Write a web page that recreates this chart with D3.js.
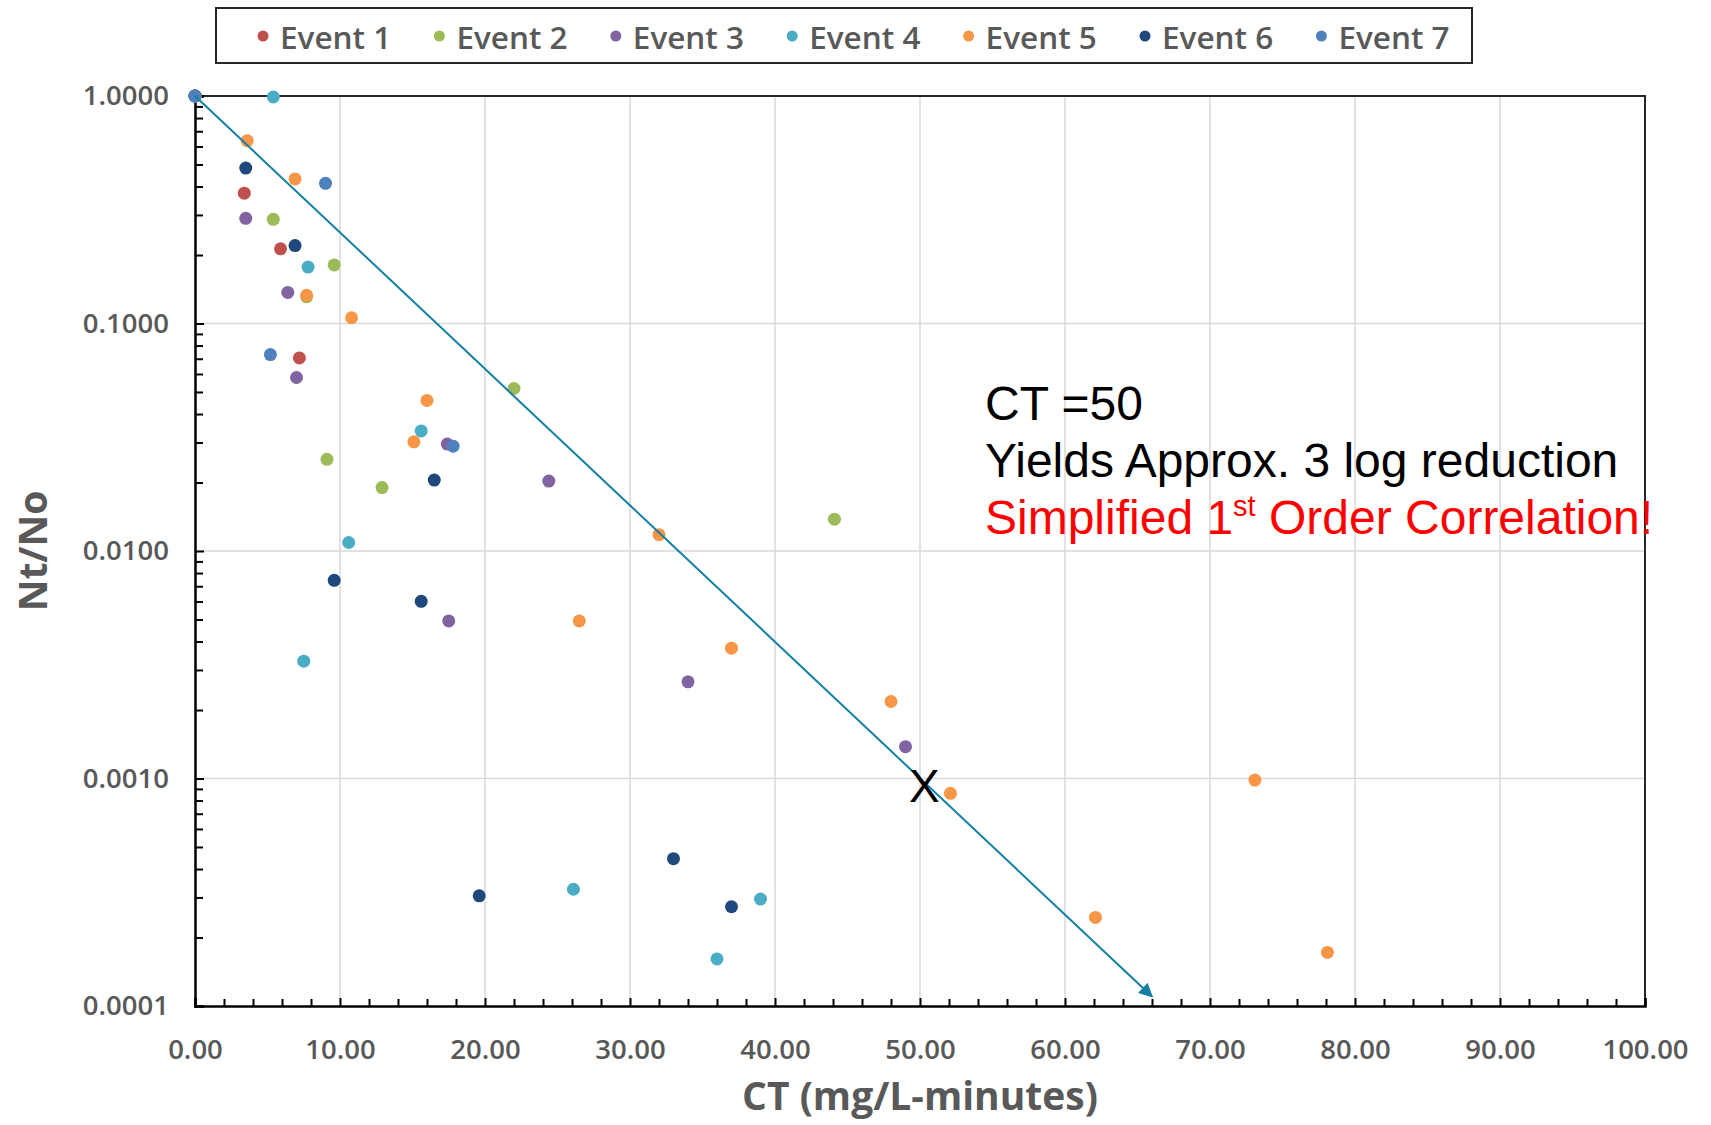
<!DOCTYPE html>
<html>
<head>
<meta charset="utf-8">
<script src="https://cdn.jsdelivr.net/npm/d3@7"></script>
<style>
  body { margin: 0; background: #fff; }
  svg { display: block; }
</style>
</head>
<body>
<div id="chart"></div>
<script>
// series data (CT, Nt/No)
const eventNames = ["Event 1", "Event 2", "Event 3", "Event 4", "Event 5", "Event 6", "Event 7"];
const eventColors = ["#C0504D", "#9BBB59", "#8064A2", "#4BACC6", "#F79646", "#1F497D", "#4F81BD"];

const event1CT = [0, 3.4, 5.9, 7.2];
const event1Ratio = [1, 0.374, 0.213, 0.0706];

const event2CT = [0, 5.4, 9.6, 7.7, 22.0, 9.1, 12.9, 44.1];
const event2Ratio = [1, 0.287, 0.181, 0.131, 0.0518, 0.0253, 0.019, 0.0138];

const event3CT = [0, 3.5, 6.4, 7.0, 17.4, 24.4, 17.5, 34.0, 49.0];
const event3Ratio = [1, 0.290, 0.137, 0.0579, 0.0295, 0.0203, 0.00493, 0.00266, 0.00138];

const event4CT = [0, 5.4, 7.8, 15.6, 10.6, 7.5, 26.1, 39.0, 36.0];
const event4Ratio = [1, 0.99, 0.177, 0.0337, 0.0109, 0.00328, 0.000326, 0.000295, 0.000161];

const event5CT = [0, 3.6, 6.9, 7.7, 10.8, 16.0, 15.1, 32.0, 26.5, 37.0, 48.0, 52.1, 73.1, 62.1, 78.1];
const event5Ratio = [1, 0.636, 0.432, 0.133, 0.106, 0.0459, 0.0302, 0.0118, 0.00493, 0.00374, 0.00218, 0.000861, 0.000984, 0.000245, 0.000172];

const event6CT = [0, 3.5, 6.9, 9.6, 15.6, 16.5, 19.6, 33.0, 37.0];
const event6Ratio = [1, 0.482, 0.220, 0.00743, 0.00601, 0.0205, 0.000305, 0.000444, 0.000273];

const event7CT = [0, 9.0, 5.2, 17.8];
const event7Ratio = [1, 0.413, 0.073, 0.0289];

const allCT = [event1CT, event2CT, event3CT, event4CT, event5CT, event6CT, event7CT];
const allRatio = [event1Ratio, event2Ratio, event3Ratio, event4Ratio, event5Ratio, event6Ratio, event7Ratio];

// first order correlation line and the CT=50 marker
const fitCT = [0, 66];
const fitRatio = [1, 0.00011];
const markCT = 50.3;
const markRatio = 0.00093;

const xTicks = [0, 10, 20, 30, 40, 50, 60, 70, 80, 90, 100];
const yTicks = [0.0001, 0.001, 0.01, 0.1, 1];

const WIDTH = 1711, HEIGHT = 1125;
const grid = { top: 96, left: 195, right: 66, bottom: 119 };
const plotW = WIDTH - grid.left - grid.right;
const plotH = HEIGHT - grid.top - grid.bottom;
const labelFont = "'Open Sans', sans-serif";
const labelColor = "#595959";

const svg = d3.select("#chart").append("svg")
    .attr("width", WIDTH)
    .attr("height", HEIGHT);

const x = d3.scaleLinear().domain([0, 100]).range([0, plotW]);
const y = d3.scaleLog().domain([0.0001, 1]).range([plotH, 0]);

const plot = svg.append("g")
    .attr("transform", `translate(${grid.left},${grid.top})`);

// grid lines
plot.append("g").selectAll("line.vgrid")
    .data(xTicks.slice(1, -1))
    .join("line")
    .attr("x1", d => x(d)).attr("x2", d => x(d))
    .attr("y1", 0).attr("y2", plotH)
    .attr("stroke", "#D9D9D9").attr("stroke-width", 1.5);

plot.append("g").selectAll("line.hgrid")
    .data(yTicks.slice(1, -1))
    .join("line")
    .attr("x1", 0).attr("x2", plotW)
    .attr("y1", d => y(d)).attr("y2", d => y(d))
    .attr("stroke", "#D9D9D9").attr("stroke-width", 1.5);

// top / right frame
plot.append("path")
    .attr("d", `M0,0H${plotW}V${plotH}`)
    .attr("fill", "none")
    .attr("stroke", "#262626")
    .attr("stroke-width", 2);

// minor ticks
const yMinor = [];
[0.0001, 0.001, 0.01, 0.1].forEach(dec => {
    for (let k = 2; k <= 9; k++) yMinor.push(dec * k);
});
const xMinor = d3.range(0, 101, 2).filter(v => v % 10 !== 0);

plot.append("g")
    .call(d3.axisLeft(y).tickValues(yMinor).tickSize(-8).tickFormat(""))
    .call(g => g.select(".domain").remove())
    .selectAll("line").attr("stroke", "#000").attr("stroke-width", 2);

plot.append("g")
    .attr("transform", `translate(0,${plotH})`)
    .call(d3.axisBottom(x).tickValues(xMinor).tickSize(-7).tickFormat(""))
    .call(g => g.select(".domain").remove())
    .selectAll("line").attr("stroke", "#000").attr("stroke-width", 2);

// major axes
const yAxis = plot.append("g")
    .call(d3.axisLeft(y).tickValues(yTicks).tickSize(-9).tickPadding(26).tickFormat(d3.format(".4f")));
yAxis.select(".domain").attr("stroke", "#000").attr("stroke-width", 2.5);
yAxis.selectAll("line").attr("stroke", "#000").attr("stroke-width", 2);
yAxis.selectAll("text")
    .attr("font-family", labelFont)
    .attr("font-weight", 600)
    .attr("font-size", 27.5)
    .attr("fill", labelColor);

const xAxis = plot.append("g")
    .attr("transform", `translate(0,${plotH})`)
    .call(d3.axisBottom(x).tickValues(xTicks).tickSize(-8).tickPadding(33).tickFormat(d3.format(".2f")));
xAxis.select(".domain").attr("stroke", "#000").attr("stroke-width", 2.5);
xAxis.selectAll("line").attr("stroke", "#000").attr("stroke-width", 2);
xAxis.selectAll("text")
    .attr("font-family", labelFont)
    .attr("font-weight", 600)
    .attr("font-size", 27.5)
    .attr("fill", labelColor);

// points
eventNames.forEach((name, i) => {
    const pts = allCT[i].map((ct, j) => ({ ct: ct, ratio: allRatio[i][j] }));
    plot.append("g").selectAll("circle")
        .data(pts)
        .join("circle")
        .attr("cx", d => x(d.ct))
        .attr("cy", d => y(d.ratio))
        .attr("r", 6.5)
        .attr("fill", eventColors[i]);
});

// correlation arrow
svg.append("defs").append("marker")
    .attr("id", "arrow")
    .attr("viewBox", "0 0 10 10")
    .attr("refX", 9).attr("refY", 5)
    .attr("markerWidth", 8).attr("markerHeight", 7)
    .attr("markerUnits", "strokeWidth")
    .attr("orient", "auto")
    .append("path")
    .attr("d", "M0,0L10,5L0,10Z")
    .attr("fill", "#137FA3");

plot.append("line")
    .attr("x1", x(fitCT[0])).attr("y1", y(fitRatio[0]))
    .attr("x2", x(fitCT[1])).attr("y2", y(fitRatio[1]))
    .attr("stroke", "#137FA3")
    .attr("stroke-width", 2)
    .attr("marker-end", "url(#arrow)");

plot.append("text")
    .attr("x", x(markCT))
    .attr("y", y(markRatio))
    .attr("text-anchor", "middle")
    .attr("dominant-baseline", "central")
    .attr("font-family", "'Liberation Sans', Arial, sans-serif")
    .attr("font-size", 46)
    .attr("fill", "#000")
    .text("X");

// annotation
const note = svg.append("text")
    .attr("font-family", "'Liberation Sans', Arial, sans-serif")
    .attr("font-size", 48);
note.append("tspan").attr("x", 985).attr("y", 420).attr("fill", "#000").text("CT =50");
note.append("tspan").attr("x", 985).attr("y", 477).attr("fill", "#000").text("Yields Approx. 3 log reduction");
const red = note.append("tspan").attr("x", 985).attr("y", 534).attr("fill", "#FF0000");
red.append("tspan").text("Simplified 1");
red.append("tspan").attr("font-size", 29).attr("dy", -18).text("st");
red.append("tspan").attr("dy", 18).text(" Order Correlation!");

// axis titles
svg.append("text")
    .attr("transform", `translate(47,${grid.top + plotH / 2}) rotate(-90)`)
    .attr("text-anchor", "middle")
    .attr("font-family", labelFont)
    .attr("font-weight", 700)
    .attr("font-size", 39)
    .attr("fill", labelColor)
    .text("Nt/No");

svg.append("text")
    .attr("x", grid.left + plotW / 2)
    .attr("y", 1110)
    .attr("text-anchor", "middle")
    .attr("font-family", labelFont)
    .attr("font-weight", 700)
    .attr("font-size", 39)
    .attr("fill", labelColor)
    .text("CT (mg/L-minutes)");

// legend
const legend = svg.append("g");
legend.append("rect")
    .attr("x", 216).attr("y", 8)
    .attr("width", 1256).attr("height", 55)
    .attr("fill", "#fff")
    .attr("stroke", "#262626")
    .attr("stroke-width", 2);

const items = legend.selectAll("g.item")
    .data(eventNames)
    .join("g")
    .attr("transform", (d, i) => `translate(${263 + i * 176.4},36)`);
items.append("circle")
    .attr("r", 5.5)
    .attr("fill", (d, i) => eventColors[i]);
items.append("text")
    .attr("x", 17)
    .attr("dominant-baseline", "central")
    .attr("font-family", labelFont)
    .attr("font-weight", 600)
    .attr("font-size", 31.5)
    .attr("fill", labelColor)
    .text(d => d);
</script>
</body>
</html>
